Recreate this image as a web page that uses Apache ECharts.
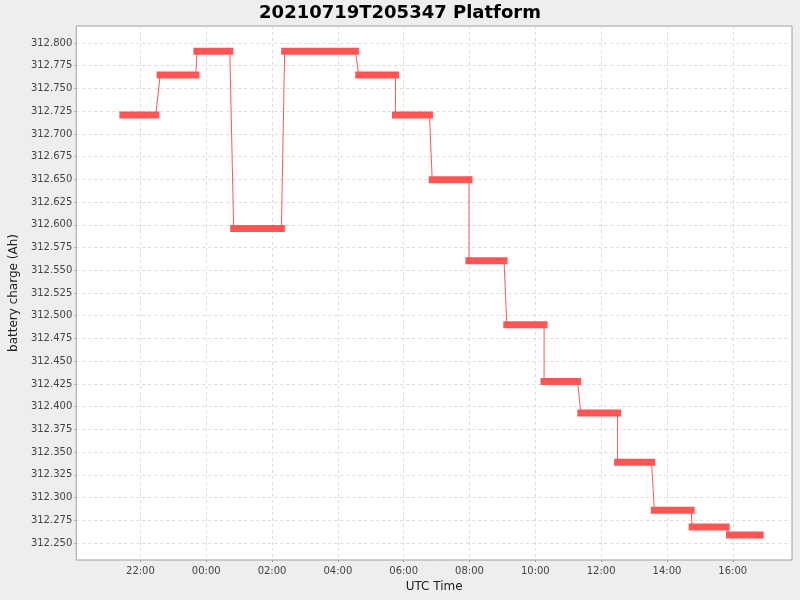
<!DOCTYPE html>
<html>
	<head>
		<meta charset="utf-8">
		<title>20210719T205347 Platform</title>
		<script src="https://cdn.jsdelivr.net/npm/echarts@6.0.0/dist/echarts.min.js"></script>
		<style>
			html, body { margin: 0; padding: 0; background: #eeeeee; }
			#chart { width: 800px; height: 600px; }
		</style>
	</head>
	<body>
	<div id="chart"></div>
		<script type="text/javascript">
			// readings: each level is held from start to end (UTC)
			var startTimes = ['2021-07-19T21:28Z', '2021-07-19T22:36Z', '2021-07-19T23:43Z', '2021-07-20T00:50Z',
				'2021-07-20T02:23Z', '2021-07-20T04:38Z', '2021-07-20T05:45Z', '2021-07-20T06:52Z',
				'2021-07-20T07:59Z', '2021-07-20T09:08Z', '2021-07-20T10:16Z', '2021-07-20T11:23Z',
				'2021-07-20T12:30Z', '2021-07-20T13:37Z', '2021-07-20T14:46Z', '2021-07-20T15:54Z'];
			var endTimes = ['2021-07-19T22:28Z', '2021-07-19T23:41Z', '2021-07-20T00:43Z', '2021-07-20T02:17Z',
				'2021-07-20T04:32Z', '2021-07-20T05:45Z', '2021-07-20T06:47Z', '2021-07-20T07:59Z',
				'2021-07-20T09:03Z', '2021-07-20T10:16Z', '2021-07-20T11:17Z', '2021-07-20T12:30Z',
				'2021-07-20T13:32Z', '2021-07-20T14:44Z', '2021-07-20T15:48Z', '2021-07-20T16:50Z'];
			var charge = [312.7207, 312.7647, 312.7910, 312.5960, 312.7910, 312.7647, 312.7207, 312.6496,
				312.5605, 312.4900, 312.4277, 312.3929, 312.3388, 312.2861, 312.2676, 312.2588];

			// tick labels
			var timeTicks = ['2021-07-19T22:00Z', '2021-07-20T00:00Z', '2021-07-20T02:00Z', '2021-07-20T04:00Z',
				'2021-07-20T06:00Z', '2021-07-20T08:00Z', '2021-07-20T10:00Z', '2021-07-20T12:00Z',
				'2021-07-20T14:00Z', '2021-07-20T16:00Z'];
			var chargeTicks = ['312.250', '312.275', '312.300', '312.325', '312.350', '312.375', '312.400',
				'312.425', '312.450', '312.475', '312.500', '312.525', '312.550', '312.575', '312.600',
				'312.625', '312.650', '312.675', '312.700', '312.725', '312.750', '312.775', '312.800'];

			var ms = function (s) { return new Date(s).getTime(); };
			var xTickVals = timeTicks.map(ms);
			var yTickVals = chargeTicks.map(Number);

			// thin line through all readings, thick bar per level
			var lineData = [];
			var barData = [];
			for (var i = 0; i < charge.length; i++) {
				lineData.push([ms(startTimes[i]), charge[i]]);
				lineData.push([ms(endTimes[i]), charge[i]]);
				barData.push([ms(startTimes[i]), charge[i]]);
				barData.push([ms(endTimes[i]), charge[i]]);
				barData.push([ms(endTimes[i]), '-']);
			}

			var pad = function (n) { return (n < 10 ? '0' : '') + n; };

			var chart = echarts.init(document.getElementById('chart'));
			var option = {
				backgroundColor: '#eeeeee',
				animation: false,
				title: {
					text: '20210719T205347 Platform',
					left: 'center',
					top: -1,
					textStyle: { fontFamily: 'DejaVu Sans', fontSize: 18, fontWeight: 'bold', color: '#000' }
				},
				grid: {
					left: 74, right: 8, top: 26, bottom: 40,
					show: true,
					backgroundColor: '#ffffff',
					borderColor: '#a0a0a0',
					borderWidth: 1
				},
				xAxis: {
					type: 'value',
					min: ms('2021-07-19T20:03Z'),
					max: ms('2021-07-20T17:48Z'),
					name: 'UTC Time',
					nameLocation: 'middle',
					nameGap: 20,
					nameTextStyle: { fontFamily: 'DejaVu Sans', fontSize: 12, color: '#222' },
					axisLine: { show: false },
					axisTick: { show: true, length: 2, lineStyle: { color: '#a0a0a0' }, customValues: xTickVals },
					axisLabel: {
						customValues: xTickVals,
						fontFamily: 'DejaVu Sans', fontSize: 10, color: '#444', margin: 6,
						formatter: function (v) {
							var d = new Date(v);
							return pad(d.getUTCHours()) + ':' + pad(d.getUTCMinutes());
						}
					},
					splitLine: { show: true, lineStyle: { color: '#dcdcdc', type: [3, 3] } }
				},
				yAxis: {
					type: 'value',
					min: 312.2313,
					max: 312.8187,
					name: 'battery charge (Ah)',
					nameLocation: 'middle',
					nameGap: 51,
					nameTextStyle: { fontFamily: 'DejaVu Sans', fontSize: 12, color: '#222' },
					axisLine: { show: false },
					axisTick: { show: true, length: 2, lineStyle: { color: '#a0a0a0' }, customValues: yTickVals },
					axisLabel: {
						customValues: yTickVals,
						fontFamily: 'DejaVu Sans', fontSize: 10, color: '#444', margin: 4,
						formatter: function (v) { return v.toFixed(3); }
					},
					splitLine: { show: true, lineStyle: { color: '#dcdcdc', type: [3, 3] } }
				},
				series: [
					{
						name: 'charge',
						type: 'line',
						data: lineData,
						showSymbol: false,
						lineStyle: { color: '#ff5555', width: 1 },
						z: 2
					},
					{
						name: 'charge level',
						type: 'line',
						data: barData,
						showSymbol: false,
						connectNulls: false,
						lineStyle: { color: '#ff5555', width: 7, cap: 'square' },
						z: 3
					}
				]
			};
			chart.setOption(option);
		</script>
	</body>
</html>
